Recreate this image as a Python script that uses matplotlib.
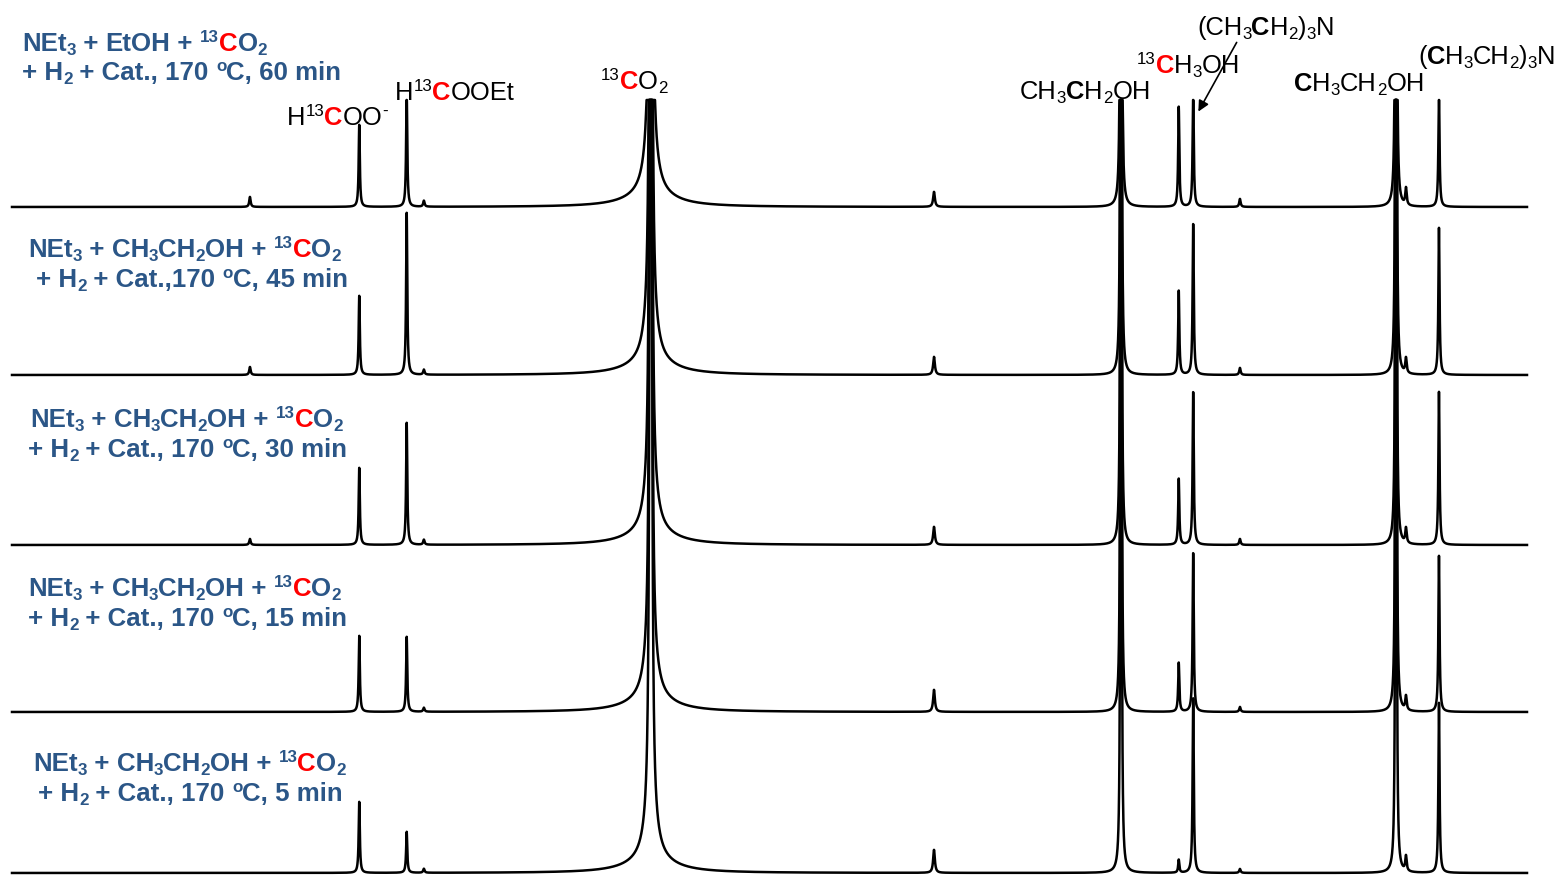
import matplotlib
matplotlib.use('Agg')
import matplotlib.pyplot as plt
import numpy as np
from matplotlib.font_manager import FontProperties

W, H, DPI = 1560, 877, 100

# 13C NMR peaks: chemical shift (ppm) and half width at half height (ppm)
# CO2 at 126.4 ppm is built from three widths (sharp centre + wings)
peak_ppm = [184.7, 168.8, 161.9, 159.4, 126.4, 126.4, 126.4, 85.2, 58.0, 49.6, 47.5, 40.7, 18.0, 16.55, 11.75]
peak_hwhm = [0.12, 0.10, 0.10, 0.12, 4.0, 1.0, 0.10, 0.15, 0.04, 0.10, 0.10, 0.12, 0.04, 0.12, 0.10]

# peak heights for each reaction time (same order as peak_ppm)
times = [60, 45, 30, 15, 5]
heights_60 = [10, 82, 115, 6, 12, 45, 2500, 15, 4000, 100, 115, 8, 4000, 17, 115]
heights_45 = [8, 79, 162, 5, 12, 45, 2500, 18, 4000, 84, 151, 7, 4000, 15, 147]
heights_30 = [6, 77, 122, 5, 12, 45, 2500, 18, 4000, 66, 153, 6, 4000, 15, 153]
heights_15 = [0, 76, 75, 4, 12, 45, 2500, 22, 4000, 49, 159, 5, 4000, 14, 156]
heights_5 = [0, 71, 41, 4, 12, 45, 2500, 23, 4000, 13, 175, 4, 4000, 15, 170]
heights = [heights_60, heights_45, heights_30, heights_15, heights_5]

# reaction labels
cond_alcohol = ['EtOH', 'CH3CH2OH', 'CH3CH2OH', 'CH3CH2OH', 'CH3CH2OH']
cond_pre = [' + Cat., 170 ', ' + Cat.,170 ', ' + Cat., 170 ', ' + Cat., 170 ', ' + Cat., 170 ']
cond_time = [', 60 min', ', 45 min', ', 30 min', ', 15 min', ', 5 min']

# layout (pixels from top-left)
baselines_px = [207, 375, 545, 712, 873]
cap_px = 100
label_pos = [(22, 51, 22, 80), (28, 257, 36, 287), (30, 427, 28, 457),
             (28, 596, 28, 626), (33, 771, 38, 801)]
BLUE = '#2b5687'
FONT = 'Liberation Sans'


def lorentz_sum(x, pos, hw, hts):
    y = np.zeros_like(x)
    for p, g, h in zip(pos, hw, hts):
        y += h * g ** 2 / ((x - p) ** 2 + g ** 2)
    return y


def px_to_ppm(px):
    return 58.0 + (1121 - px) / 6.875


fig = plt.figure(figsize=(W / DPI, H / DPI), dpi=DPI)
ax = fig.add_axes([0, 0, 1, 1])
ax.set_xlim(px_to_ppm(0), px_to_ppm(W))
ax.set_ylim(0, H)
ax.axis('off')

ppm = np.linspace(px_to_ppm(12), px_to_ppm(1527), 20000)
cap = H - cap_px
for hts, base in zip(heights, baselines_px):
    y = (H - base) + lorentz_sum(ppm, peak_ppm, peak_hwhm, hts)
    ax.plot(ppm, np.minimum(y, cap), color='black', lw=1.8, solid_joinstyle='round')

renderer = fig.canvas.get_renderer()


def text_width(s, size, weight):
    fp = FontProperties(family=FONT, size=size, weight=weight)
    w1 = renderer.get_text_width_height_descent('x' + s + 'x', fp, ismath=False)[0]
    w0 = renderer.get_text_width_height_descent('xx', fp, ismath=False)[0]
    return w1 - w0


def rich(x, y, parts, size, color='black', bold=False):
    # parts: (text, kind); kind is n, sub, sup, b (bold) or r (red bold)
    k = DPI / 72.0
    for s, kind in parts:
        fs = size * 0.66 if kind in ('sub', 'sup') else size
        dy = -0.14 * size * k if kind == 'sub' else (0.36 * size * k if kind == 'sup' else 0)
        weight = 'bold' if (bold or kind in ('b', 'r')) else 'normal'
        col = 'red' if kind == 'r' else color
        fig.text(x / W, 1 - (y - dy) / H, s, fontsize=fs, family=FONT, weight=weight,
                 color=col, ha='left', va='baseline')
        x += text_width(s, fs, weight)


def formula(s):
    # digits in a formula are subscripts
    parts = []
    for ch in s:
        kind = 'sub' if ch.isdigit() else 'n'
        if parts and parts[-1][1] == kind:
            parts[-1] = (parts[-1][0] + ch, kind)
        else:
            parts.append((ch, kind))
    return parts


SIZE = 18.6
for i in range(len(times)):
    x1, y1, x2, y2 = label_pos[i]
    line1 = [('NEt', 'n'), ('3', 'sub'), (' + ', 'n')] + formula(cond_alcohol[i]) + \
            [(' + ', 'n'), ('13', 'sup'), ('C', 'r'), ('O', 'n'), ('2', 'sub')]
    rich(x1, y1, line1, SIZE, BLUE, bold=True)
    line2 = [('+ H', 'n'), ('2', 'sub'), (cond_pre[i], 'n'), ('o', 'sup'), ('C' + cond_time[i], 'n')]
    rich(x2, y2, line2, SIZE, BLUE, bold=True)

# peak assignments
LS = 18.4
rich(287, 125, [('H', 'n'), ('13', 'sup'), ('C', 'r'), ('OO', 'n'), ('-', 'sup')], LS)
rich(395, 100, [('H', 'n'), ('13', 'sup'), ('C', 'r'), ('OOEt', 'n')], LS)
rich(601, 89, [('13', 'sup'), ('C', 'r'), ('O', 'n'), ('2', 'sub')], LS)
rich(1020, 99, [('CH', 'n'), ('3', 'sub'), ('C', 'b'), ('H', 'n'), ('2', 'sub'), ('OH', 'n')], LS)
rich(1137, 73, [('13', 'sup'), ('C', 'r'), ('H', 'n'), ('3', 'sub'), ('OH', 'n')], LS)
rich(1197, 35, [('(CH', 'n'), ('3', 'sub'), ('C', 'b'), ('H', 'n'), ('2', 'sub'), (')', 'n'),
                ('3', 'sub'), ('N', 'n')], LS)
rich(1294, 91, [('C', 'b'), ('H', 'n'), ('3', 'sub'), ('CH', 'n'), ('2', 'sub'), ('OH', 'n')], LS)
rich(1418, 64, [('(', 'n'), ('C', 'b'), ('H', 'n'), ('3', 'sub'), ('CH', 'n'), ('2', 'sub'),
                (')', 'n'), ('3', 'sub'), ('N', 'n')], LS)

ax.annotate('', xy=(px_to_ppm(1197), H - 114), xytext=(px_to_ppm(1238), H - 40),
            arrowprops=dict(arrowstyle='-|>', color='black', lw=1.2, mutation_scale=16))

fig.savefig('out.png', dpi=DPI)
